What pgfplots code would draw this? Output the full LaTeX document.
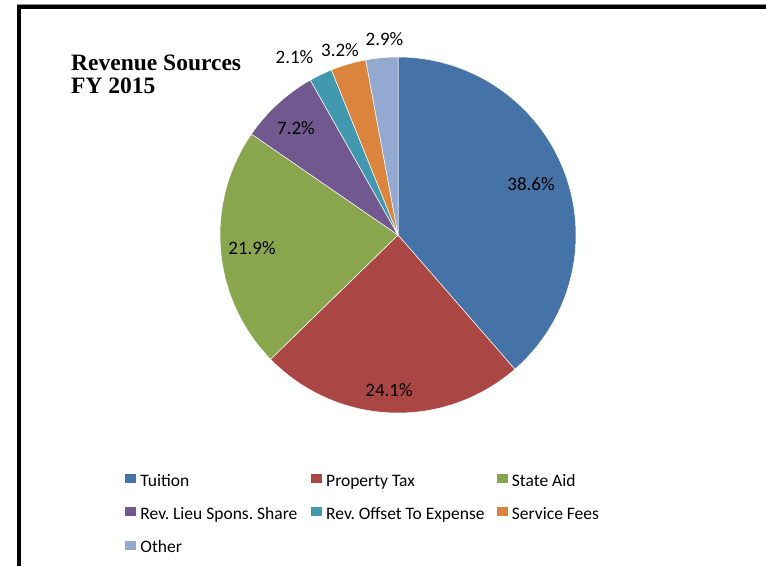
\documentclass[border=0pt]{standalone}
\usepackage{pgfplots}
\pgfplotsset{compat=1.18}
\usepackage{fontspec}
\setmainfont{Carlito}
\newfontfamily\titlefont{Liberation Serif}
\frenchspacing

\definecolor{tuition}{RGB}{69,114,167}
\definecolor{proptax}{RGB}{170,70,67}
\definecolor{stateaid}{RGB}{137,165,78}
\definecolor{revlieu}{RGB}{113,88,143}
\definecolor{revoffset}{RGB}{65,152,175}
\definecolor{servfees}{RGB}{219,132,61}
\definecolor{other}{RGB}{147,169,207}

\begin{document}
\begin{tikzpicture}[x=1pt,y=1pt]
\path[use as bounding box] (0,0) rectangle (766,566);
% frame
\fill[black!45] (17,560.5) rectangle (766,561.5);
\fill[black] (17,557) rectangle (766,560.5);
\fill[black] (17,0) rectangle (21,560.5);
% title
\node[anchor=base west, inner sep=0pt, font=\titlefont\bfseries\fontsize{23.5}{23}\selectfont] at (71,495) {Revenue Sources};
\node[anchor=base west, inner sep=0pt, font=\titlefont\bfseries\fontsize{23.5}{23}\selectfont] at (71,472) {FY 2015};

\begin{axis}[
    at={(398,331)}, anchor=center,
    scale only axis, width=356pt, height=356pt,
    xmin=-178, xmax=178, ymin=-178, ymax=178,
    hide axis, clip=false,
    samples=90,
    every axis plot/.append style={draw=white, line width=0.5pt},
    legend columns=3,
    legend cell align=left,
    legend image code/.code={%
        \fill[#1, draw=none] (0pt,-0.5pt) rectangle (11pt,8.5pt);
        \path (0pt,-8.5pt);},
    legend style={
        at={(-0.26685,-0.17135)}, anchor=north west,
        draw=none, fill=none, inner sep=0pt,
        row sep=16pt, column sep=0pt,
        nodes={inner xsep=4pt, inner ysep=0pt, text height=12pt, text depth=5pt,
               font=\fontsize{17.5}{21}\selectfont}},
    ]
% slices, clockwise from 12 o'clock; cumulative shares in percent
\addplot[fill=tuition, domain={90-3.6*38.6}:{90-3.6*0}] ({178*cos(x)},{178*sin(x)}) -- (0,0) -- cycle;
\addlegendentry{\makebox[166.5pt][l]{Tuition}}
\addplot[fill=proptax, domain={90-3.6*62.7}:{90-3.6*38.6}] ({178*cos(x)},{178*sin(x)}) -- (0,0) -- cycle;
\addlegendentry{\makebox[166.5pt][l]{Property Tax}}
\addplot[fill=stateaid, domain={90-3.6*84.6}:{90-3.6*62.7}] ({178*cos(x)},{178*sin(x)}) -- (0,0) -- cycle;
\addlegendentry{\makebox[166.5pt][l]{State Aid}}
\addplot[fill=revlieu, domain={90-3.6*91.8}:{90-3.6*84.6}] ({178*cos(x)},{178*sin(x)}) -- (0,0) -- cycle;
\addlegendentry{\makebox[166.5pt][l]{Rev. Lieu Spons. Share}}
\addplot[fill=revoffset, domain={90-3.6*93.9}:{90-3.6*91.8}] ({178*cos(x)},{178*sin(x)}) -- (0,0) -- cycle;
\addlegendentry{\makebox[166.5pt][l]{Rev. Offset To Expense}}
\addplot[fill=servfees, domain={90-3.6*97.1}:{90-3.6*93.9}] ({178*cos(x)},{178*sin(x)}) -- (0,0) -- cycle;
\addlegendentry{\makebox[166.5pt][l]{Service Fees}}
\addplot[fill=other, domain={90-3.6*100}:{90-3.6*97.1}] ({178*cos(x)},{178*sin(x)}) -- (0,0) -- cycle;
\addlegendentry{\makebox[166.5pt][l]{Other}}

% data labels
\begin{scope}[every node/.style={anchor=base, inner sep=0pt, font=\fontsize{19}{22}\selectfont}]
\node at (axis cs:133,45) {38.6\%};
\node at (axis cs:-9,-161) {24.1\%};
\node at (axis cs:-146,-19) {21.9\%};
\node at (axis cs:-102,101) {7.2\%};
\node at (axis cs:-103.5,171) {2.1\%};
\node at (axis cs:-58,179) {3.2\%};
\node at (axis cs:-13.5,189.3) {2.9\%};
\end{scope}
\end{axis}
\end{tikzpicture}
\end{document}
